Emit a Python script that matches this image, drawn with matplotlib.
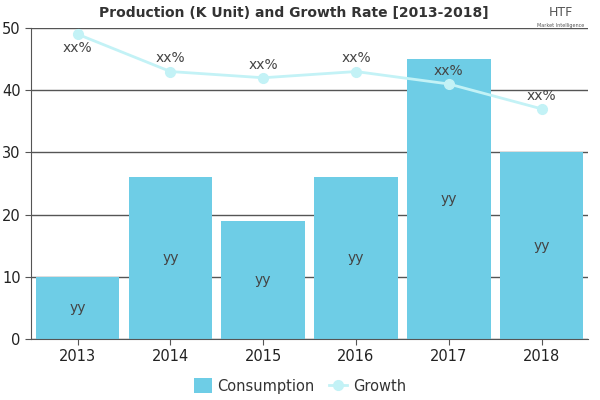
import matplotlib
matplotlib.use("Agg")
import matplotlib.pyplot as plt
import numpy as np

years = ["2013", "2014", "2015", "2016", "2017", "2018"]
consumption = [10, 26, 19, 26, 45, 30]
growth = [49, 43, 42, 43, 41, 37]
bar_labels = ["yy"] * 6
growth_labels = ["xx%"] * 6

bar_color = "#6ecde6"
line_color = "#c3f2f6"

fig = plt.figure(figsize=(6, 4), dpi=100)
ax = fig.add_axes([0.052, 0.1525, 0.928, 0.7775])
x = np.arange(len(years))
bars = ax.bar(x, consumption, width=0.9, color=bar_color, zorder=2, label="Consumption")
line, = ax.plot(x, growth, color=line_color, lw=2, marker="o", ms=7, zorder=3, label="Growth")

for xi, v, t in zip(x, consumption, bar_labels):
    ax.text(xi, v / 2, t, ha="center", va="center", fontsize=10, color="#444444", zorder=4)
for i, (xi, v, t) in enumerate(zip(x, growth, growth_labels)):
    if i == 0:
        ax.text(xi, v - 2.2, t, ha="center", va="center", fontsize=10, color="#444444", zorder=4)
    else:
        ax.text(xi, v + 2.1, t, ha="center", va="center", fontsize=10, color="#444444", zorder=4)

ax.set_xlim(-0.5, 5.5)
ax.set_ylim(0, 50)
ax.set_yticks([0, 10, 20, 30, 40, 50])
ax.set_xticks(x)
ax.set_xticklabels(years)
ax.set_axisbelow(True)
ax.yaxis.grid(True, color="#555555", lw=1)
for s in ["top", "right"]:
    ax.spines[s].set_visible(False)
ax.spines["left"].set_color("#555555")
ax.spines["bottom"].set_color("#555555")
ax.tick_params(axis="both", labelsize=10.5, colors="#222222", length=4, color="#555555")

fig.text(0.49, 0.968, "Production (K Unit) and Growth Rate [2013-2018]", ha="center", va="center",
         fontsize=10, fontweight="bold", color="#333333")
fig.text(0.935, 0.968, "HTF", ha="center", va="center", fontsize=9, color="#555555")
fig.text(0.935, 0.935, "Market Intelligence", ha="center", va="center", fontsize=3.5, color="#555555")

leg = fig.legend([bars, line], ["Consumption", "Growth"], loc="center", bbox_to_anchor=(0.5, 0.035),
                 ncol=2, frameon=False, fontsize=10.5, handlelength=1.2, handleheight=1.2,
                 columnspacing=1.0, handletextpad=0.4)
for t in leg.get_texts():
    t.set_color("#333333")
fig.savefig("out.png", dpi=100)
